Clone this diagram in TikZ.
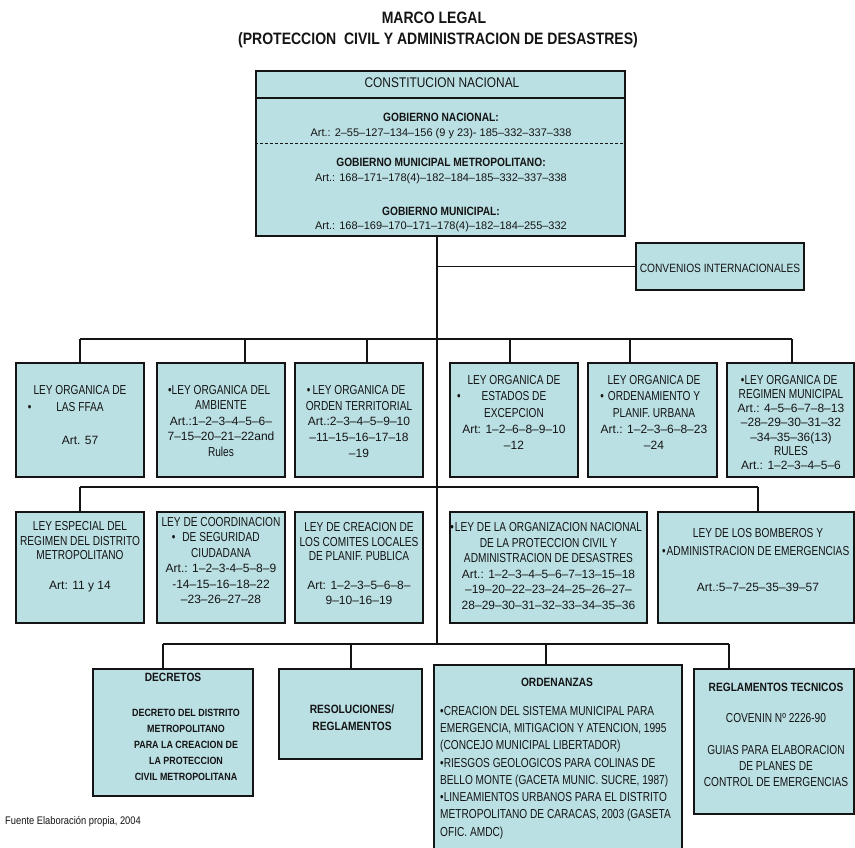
\documentclass[tikz,border=0pt]{standalone}
\usepackage{fontspec}
\setmainfont{Liberation Sans}[FakeStretch=0.85]
\newfontfamily\dig{Liberation Sans}
\newfontfamily\nar{Liberation Sans}[FakeStretch=0.78]
\newcommand\dg[1]{{\dig\fontsize{12}{14}\selectfont #1}}
\definecolor{boxfill}{RGB}{187,224,228}
\definecolor{ink}{RGB}{20,20,20}
\begin{document}
\begin{tikzpicture}[x=1pt,y=-1pt,
  box/.style={draw=ink, line width=1.3pt, fill=boxfill, inner sep=0pt, rectangle},
  conn/.style={draw=ink, line width=1.1pt},
  lt/.style={align=center, inner sep=0pt, text=ink, font=\nar\fontsize{13}{#1}\selectfont},
  bt/.style={align=center, inner sep=0pt, text=ink, font=\fontsize{#1}{15}\selectfont\bfseries},
]
\useasboundingbox (0,0) rectangle (855,847);

% titles
\node[inner sep=0pt, text=ink, font=\fontsize{16.5}{18}\selectfont\bfseries] (title1) at (434,17.5) {MARCO LEGAL};
\node[inner sep=0pt, text=ink, font=\fontsize{16.5}{18}\selectfont\bfseries] (title2) at (438,40) {(PROTECCION\ \ CIVIL Y ADMINISTRACION DE DESASTRES)};

% constitution
\node[box, minimum width=369, minimum height=165] (const) at (440.5,153.5) {};
\coordinate (h1) at (0,98);
\coordinate (h2) at (0,143);
\draw[draw=ink, line width=1.3pt] (const.west |- h1) -- (const.east |- h1);
\draw[draw=ink, line width=0.8pt, dash pattern=on 3pt off 2pt] (const.west |- h2) -- (const.east |- h2);
\node[inner sep=0pt, text=ink, font=\fontsize{14}{16}\selectfont] (ctitle) at (442,83) {CONSTITUCION NACIONAL};
\node[align=center, inner sep=0pt, text=ink, font=\fontsize{12}{15}\selectfont] (g1) at (441,125.5) {{\bfseries GOBIERNO NACIONAL:}\\{\dig\fontsize{11}{15}\selectfont Art.: 2–55–127–134–156 (9 y 23)- 185–332–337–338}};
\node[align=center, inner sep=0pt, text=ink, font=\fontsize{12}{15}\selectfont] (g2) at (441,170.5) {{\bfseries GOBIERNO MUNICIPAL METROPOLITANO:}\\{\dig\fontsize{11}{15}\selectfont Art.: 168–171–178(4)–182–184–185–332–337–338}};
\node[align=center, inner sep=0pt, text=ink, font=\fontsize{12}{14}\selectfont] (g3) at (441,219) {{\bfseries GOBIERNO MUNICIPAL:}\\{\dig\fontsize{11}{14}\selectfont Art.: 168–169–170–171–178(4)–182–184–255–332}};

% convenios
\node[box, minimum width=168, minimum height=47] (conv) at (720,266.5) {};
\node[inner sep=0pt, text=ink, font=\fontsize{12}{14}\selectfont] (convt) at (720,268) {CONVENIOS INTERNACIONALES};

% row 1 boxes
\node[box, minimum width=128, minimum height=114] (B1) at (80,420) {};
\node[box, minimum width=128, minimum height=114] (B2) at (221,420) {};
\node[box, minimum width=128, minimum height=114] (B3) at (359,420) {};
\node[box, minimum width=128, minimum height=114] (B4) at (514,420) {};
\node[box, minimum width=129, minimum height=114] (B5) at (652.5,420) {};
\node[box, minimum width=127, minimum height=114] (B6) at (790.5,420) {};

\node[lt=16.7] (B1t) at (80,415) {LEY ORGANICA DE\\\llap{•\hspace{25pt}}LAS FFAA\\[16.7pt]\dg{Art. 57}};
\node[lt=15.5] (B2t) at (221,421) {\llap{•}LEY ORGANICA DEL\\AMBIENTE\\\dg{Art.:1–2–3–4–5–6–}\\\dg{7–15–20–21–22and}\\Rules};
\node[lt=15.75] (B3t) at (359,421.5) {\llap{•\,}LEY ORGANICA DE\\ORDEN TERRITORIAL\\\dg{Art.:2–3–4–5–9–10}\\\dg{–11–15–16–17–18}\\\dg{–19}};
\node[lt=16.25] (B4t) at (514,412.5) {LEY ORGANICA DE\\\llap{•\hspace{21pt}}ESTADOS DE\\EXCEPCION\\\dg{Art: 1–2–6–8–9–10}\\\dg{–12}};
\node[lt=16.25] (B5t) at (654,412.5) {LEY ORGANICA DE\\\llap{•\hspace{4pt}}ORDENAMIENTO Y\\PLANIF. URBANA\\\dg{Art.: 1–2–3–6–8–23}\\\dg{–24}};
\node[lt=14.17] (B6t) at (791,422.5) {\llap{•}LEY ORGANICA DE\\REGIMEN MUNICIPAL\\\dg{Art.: 4–5–6–7–8–13}\\\dg{–28–29–30–31–32}\\\dg{–34–35–36(13)}\\RULES\\\dg{Art.: 1–2–3–4–5–6}};

% row 2 boxes
\node[box, minimum width=128, minimum height=111] (C1) at (80,567.5) {};
\node[box, minimum width=128, minimum height=111] (C2) at (221,567.5) {};
\node[box, minimum width=128, minimum height=111] (C3) at (359,567.5) {};
\node[box, minimum width=197, minimum height=111] (C4) at (548.5,567.5) {};
\node[box, minimum width=196, minimum height=111] (C5) at (756,567.5) {};

\node[lt=14.75] (C1t) at (80,556.5) {LEY ESPECIAL DEL\\REGIMEN DEL DISTRITO\\METROPOLITANO\\[14.75pt]\dg{Art: 11 y 14}};
\node[lt=15.4] (C2t) at (221,560.5) {LEY DE COORDINACION\\\llap{•\hspace{7pt}}DE SEGURIDAD\\CIUDADANA\\\dg{Art.: 1–2–3-4–5–8–9}\\\dg{-14–15–16–18–22}\\\dg{–23–26–27–28}};
\node[lt=14.6] (C3t) at (359,563.5) {LEY DE CREACION DE\\LOS COMITES LOCALES\\DE PLANIF. PUBLICA\\[14.6pt]\dg{Art: 1–2–3–5–6–8–}\\\dg{9–10–16–19}};
\node[lt=15.6] (C4t) at (548.5,566) {\llap{•\hspace{1pt}}LEY DE LA ORGANIZACION NACIONAL\\DE LA PROTECCION CIVIL Y\\ADMINISTRACION DE DESASTRES\\\dg{Art.: 1–2–3–4–5–6–7–13–15–18}\\\dg{–19–20–22–23–24–25–26–27–}\\\dg{28–29–30–31–32–33–34–35–36}};
\node[lt=18] (C5t) at (758,560) {LEY DE LOS BOMBEROS Y\\\llap{•\hspace{1pt}}ADMINISTRACION DE EMERGENCIAS\\[18pt]\dg{Art.:5–7–25–35–39–57}};

% row 3 boxes
\node[box, minimum width=160, minimum height=127] (D1) at (173,732.5) {};
\node[box, minimum width=143, minimum height=90] (D2) at (350.5,714) {};
\node[box, minimum width=248, minimum height=190] (D3) at (558,760) {};
\node[box, minimum width=160, minimum height=145] (D4) at (774,741.5) {};

\node[bt=12] (D1h) at (173,677.5) {DECRETOS};
\node[align=center, inner sep=0pt, text=ink, font=\fontsize{10.5}{16}\selectfont\bfseries] (D1t) at (186,745) {DECRETO DEL DISTRITO\\METROPOLITANO\\PARA LA CREACION DE\\LA PROTECCION\\CIVIL METROPOLITANA};
\node[align=center, inner sep=0pt, text=ink, font=\fontsize{12}{17}\selectfont\bfseries] (D2t) at (352,718) {RESOLUCIONES/\\REGLAMENTOS};
\node[bt=12] (D3h) at (557,682) {ORDENANZAS};
\node[align=left, anchor=west, inner sep=0pt, text=ink, font=\nar\fontsize{13}{17.3}\selectfont] (D3t) at (440,772.5) {•CREACION DEL SISTEMA MUNICIPAL PARA\\EMERGENCIA, MITIGACION Y ATENCION, 1995\\(CONCEJO MUNICIPAL LIBERTADOR)\\•RIESGOS GEOLOGICOS PARA COLINAS DE\\BELLO MONTE (GACETA MUNIC. SUCRE, 1987)\\•LINEAMIENTOS URBANOS PARA EL DISTRITO\\METROPOLITANO DE CARACAS, 2003 (GASETA\\OFIC. AMDC)};
\node[bt=12] (D4h) at (776,687) {REGLAMENTOS TECNICOS};
\node[lt=16] (D4t) at (776,750) {COVENIN Nº 2226-90\\[16pt]GUIAS PARA ELABORACION\\DE PLANES DE\\CONTROL DE EMERGENCIAS};

% footnote
\node[anchor=west, inner sep=0pt, text=ink, font=\fontsize{11}{12}\selectfont] (src) at (5,822) {Fuente Elaboración propia, 2004};

% connectors
\coordinate (t0) at (437,236);
\coordinate (t1) at (437,268);
\coordinate (t3) at (437,644);
\draw[conn] (const.south -| t0) -- (t3);
\draw[conn] (t1 |- conv.west) -- (conv.west);

\coordinate (b1L) at (80,339);
\coordinate (b1R) at (792,339);
\draw[conn] (b1L) -- (b1R);
\coordinate (d12) at (245,339);
\coordinate (d13) at (367,339);
\coordinate (d14) at (510,339);
\coordinate (d15) at (630,339);
\draw[conn] (b1L) -- (b1L |- B1.north);
\draw[conn] (d12) -- (d12 |- B2.north);
\draw[conn] (d13) -- (d13 |- B3.north);
\draw[conn] (d14) -- (d14 |- B4.north);
\draw[conn] (d15) -- (d15 |- B5.north);
\draw[conn] (b1R) -- (b1R |- B6.north);

\coordinate (b2L) at (80,487);
\coordinate (b2R) at (758,487);
\draw[conn] (b2L) -- (b2R);
\draw[conn] (b2L) -- (b2L |- C1.north);
\draw[conn] (b2R) -- (b2R |- C5.north);

\coordinate (b3L) at (163,644);
\coordinate (b3R) at (729,644);
\coordinate (d32) at (351,644);
\coordinate (d33) at (546,644);
\draw[conn] (b3L) -- (b3R);
\draw[conn] (b3L) -- (b3L |- D1.north);
\draw[conn] (d32) -- (d32 |- D2.north);
\draw[conn] (d33) -- (d33 |- D3.north);
\draw[conn] (b3R) -- (b3R |- D4.north);
\end{tikzpicture}
\end{document}
